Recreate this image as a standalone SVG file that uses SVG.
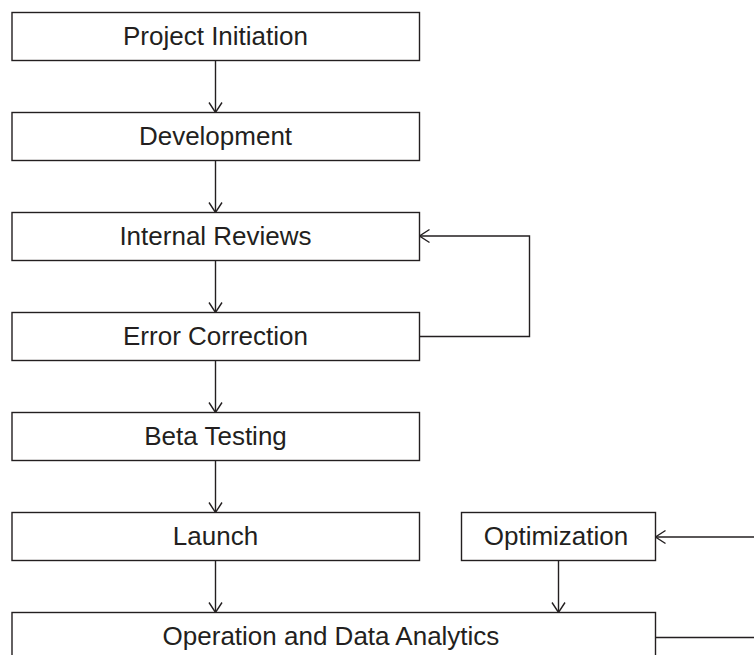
<svg xmlns="http://www.w3.org/2000/svg" width="754" height="655" viewBox="0 0 754 655">
<style>
.box{fill:#fff;stroke:#231f20;stroke-width:1.4}
.lbl{font-family:"Liberation Sans",Arial,sans-serif;font-size:26px;fill:#231f20;text-anchor:middle}
.con{fill:none;stroke:#231f20;stroke-width:1.4}
</style>
<defs>
<marker id="arr" viewBox="-12 -8 13 16" markerWidth="13" markerHeight="16" refX="0" refY="0" orient="auto" markerUnits="userSpaceOnUse">
<path d="M-10,-6.5 L0,0 L-10,6.5" fill="none" stroke="#231f20" stroke-width="1.4"/>
</marker>
</defs>
<rect width="754" height="655" fill="#fff"/>
<g id="connectors">
<line class="con" x1="215.5" y1="60.5" x2="215.5" y2="112.5" marker-end="url(#arr)"/>
<line class="con" x1="215.5" y1="160.5" x2="215.5" y2="212.5" marker-end="url(#arr)"/>
<line class="con" x1="215.5" y1="260.5" x2="215.5" y2="312.5" marker-end="url(#arr)"/>
<line class="con" x1="215.5" y1="360.5" x2="215.5" y2="412.5" marker-end="url(#arr)"/>
<line class="con" x1="215.5" y1="460.5" x2="215.5" y2="512.5" marker-end="url(#arr)"/>
<line class="con" x1="215.5" y1="560.5" x2="215.5" y2="612.5" marker-end="url(#arr)"/>
<polyline class="con" points="419.5,336.5 529.5,336.5 529.5,236 419.5,236" marker-end="url(#arr)"/>
<line class="con" x1="558.5" y1="560.5" x2="558.5" y2="612.5" marker-end="url(#arr)"/>
<line class="con" x1="755" y1="537" x2="655.5" y2="537" marker-end="url(#arr)"/>
<line class="con" x1="655.5" y1="637.5" x2="755" y2="637.5"/>
</g>
<g id="project-initiation"><rect class="box" x="12" y="12.5" width="407.5" height="48"/><text class="lbl" x="215.5" y="44.5">Project Initiation</text></g>
<g id="development"><rect class="box" x="12" y="112.5" width="407.5" height="48"/><text class="lbl" x="215.5" y="144.5">Development</text></g>
<g id="internal-reviews"><rect class="box" x="12" y="212.5" width="407.5" height="48"/><text class="lbl" x="215.5" y="244.5">Internal Reviews</text></g>
<g id="error-correction"><rect class="box" x="12" y="312.5" width="407.5" height="48"/><text class="lbl" x="215.5" y="344.5">Error Correction</text></g>
<g id="beta-testing"><rect class="box" x="12" y="412.5" width="407.5" height="48"/><text class="lbl" x="215.5" y="444.5">Beta Testing</text></g>
<g id="launch"><rect class="box" x="12" y="512.5" width="407.5" height="48"/><text class="lbl" x="215.5" y="545">Launch</text></g>
<g id="optimization"><rect class="box" x="461.5" y="512.5" width="194" height="48"/><text class="lbl" x="556" y="545">Optimization</text></g>
<g id="operation-and-data-analytics"><rect class="box" x="12" y="612.5" width="643.5" height="48"/><text class="lbl" x="331" y="645">Operation and Data Analytics</text></g>
</svg>
